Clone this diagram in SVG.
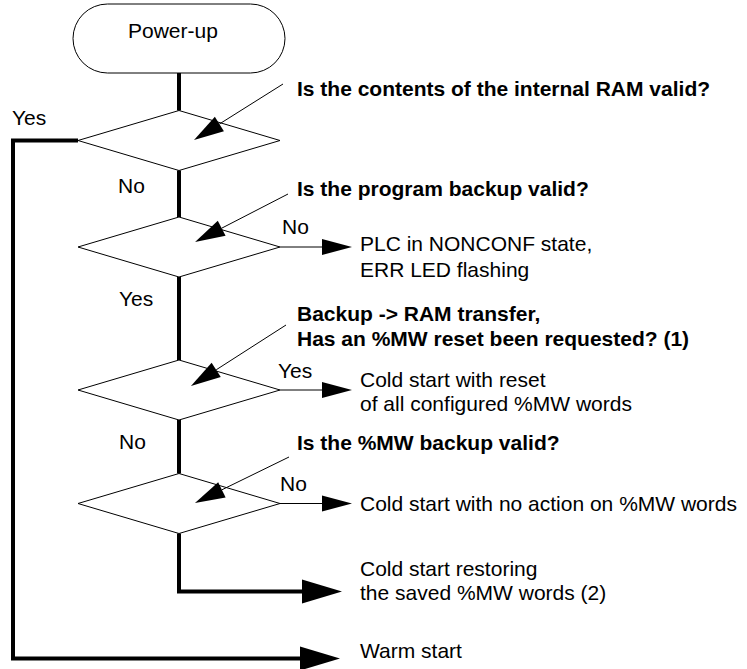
<svg xmlns="http://www.w3.org/2000/svg" width="747" height="669" viewBox="0 0 747 669">
<style>
text{font-family:"Liberation Sans",Arial,sans-serif;font-size:21px;fill:#000}
.b{font-weight:bold}
.shape{fill:#fff;stroke:#000;stroke-width:1}
.thick{fill:none;stroke:#000;stroke-width:4}
.thin{fill:none;stroke:#000;stroke-width:1}
</style>
<defs>
<marker id="ptr" markerUnits="userSpaceOnUse" viewBox="0 -9 31 18" markerWidth="31" markerHeight="18" refX="0" refY="0" orient="auto" overflow="visible"><path d="M0,-8.5L30,0L0,8.5z" fill="#000"/></marker>
<marker id="out" markerUnits="userSpaceOnUse" viewBox="0 -9 31 18" markerWidth="31" markerHeight="18" refX="0" refY="0" orient="auto" overflow="visible"><path d="M0,-8L30,0L0,8z" fill="#000"/></marker>
<marker id="big" markerUnits="userSpaceOnUse" viewBox="0 -13 41 26" markerWidth="41" markerHeight="26" refX="0" refY="0" orient="auto" overflow="visible"><path d="M0,-12L40,0L0,12z" fill="#000"/></marker>
</defs>
<g id="powerup">
<rect class="shape" x="73" y="4" width="212" height="69" rx="34.5" ry="34.5"/>
<text x="128" y="38">Power-up</text>
</g>
<g id="d1">
<polygon class="shape" points="179,110.5 280,140.5 179,170.5 78,140.5"/>
</g>
<g id="d2">
<polygon class="shape" points="179,217 280,247 179,277 78,247"/>
</g>
<g id="d3">
<polygon class="shape" points="179,360 280,390 179,420 78,390"/>
</g>
<g id="d4">
<polygon class="shape" points="179,473.5 280,503.5 179,533.5 78,503.5"/>
</g>
<g id="connectors">
<path class="thick" d="M179,73V110.5"/>
<path class="thick" d="M179,170.5V217"/>
<path class="thick" d="M179,277V360"/>
<path class="thick" d="M179,420V473.5"/>
<path class="thick" d="M179,533.5V591.5H302" marker-end="url(#big)"/>
<path class="thick" d="M78,140.5H13V658.5H300" marker-end="url(#big)"/>
<path class="thin" d="M280,247H322" marker-end="url(#out)"/>
<path class="thin" d="M280,390H322" marker-end="url(#out)"/>
<path class="thin" d="M280,503.5H322" marker-end="url(#out)"/>
<path class="thin" d="M283,84L219.4,124" marker-end="url(#ptr)"/>
<path class="thin" d="M288,194L221.7,228.2" marker-end="url(#ptr)"/>
<path class="thin" d="M286,325L216.2,369.8" marker-end="url(#ptr)"/>
<path class="thin" d="M289,457L221.9,489.8" marker-end="url(#ptr)"/>
</g>
<g id="labels">
<text class="b" x="297" y="96">Is the contents of the internal RAM valid?</text>
<text class="b" x="297" y="196">Is the program backup valid?</text>
<text class="b" x="297" y="321">Backup -&gt; RAM transfer,</text>
<text class="b" x="297" y="346">Has an %MW reset been requested? (1)</text>
<text class="b" x="297" y="450">Is the %MW backup valid?</text>
<text x="12" y="125">Yes</text>
<text x="118" y="193">No</text>
<text x="282" y="234">No</text>
<text x="119" y="306">Yes</text>
<text x="278" y="378">Yes</text>
<text x="119" y="449">No</text>
<text x="280" y="491">No</text>
</g>
<g id="results">
<text x="360" y="251">PLC in NONCONF state,</text>
<text x="360" y="277">ERR LED flashing</text>
<text x="360" y="387">Cold start with reset</text>
<text x="360" y="411">of all configured %MW words</text>
<text x="360" y="511">Cold start with no action on %MW words</text>
<text x="360" y="576">Cold start restoring</text>
<text x="360" y="600">the saved %MW words (2)</text>
<text x="360" y="658">Warm start</text>
</g>
</svg>
